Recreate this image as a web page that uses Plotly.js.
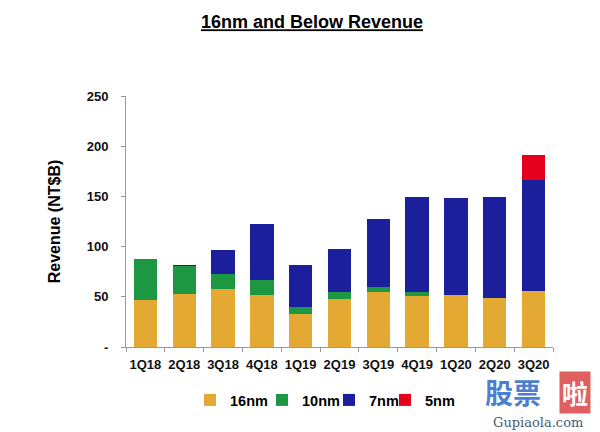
<!DOCTYPE html>
<html>
<head>
<meta charset="utf-8">
<script src="https://cdn.plot.ly/plotly-3.0.1.min.js"></script>
<style>html,body{margin:0;padding:0;background:#fff;}#chart{width:600px;height:432px;}</style>
</head>
<body>
<div id="chart"></div>
<script>
var quarters = ["1Q18","2Q18","3Q18","4Q18","1Q19","2Q19","3Q19","4Q19","1Q20","2Q20","3Q20"];
var rev16nm = [47, 53, 58, 52, 32.5, 48, 55, 51, 51.5, 49, 55.5];
var rev10nm = [41, 28, 14.5, 15, 7, 7, 5, 4, 0, 0, 0];
var rev7nm  = [0, 1, 24.5, 55.5, 42.5, 43, 67.5, 94.5, 96.5, 100, 111];
var rev5nm  = [0, 0, 0, 0, 0, 0, 0, 0, 0, 0, 25];
var yTickVals = [0, 50, 100, 150, 200, 250];
var yTickText = ["-", "50", "100", "150", "200", "250"];

var F = "Liberation Sans, Arial, sans-serif";
function series(name, vals, color, leg) {
  return {type: "bar", name: name, x: quarters, y: vals, legend: leg,
    marker: {color: color, line: {width: 0}}, hoverinfo: "x+y+name"};
}
var data = [
  series("16nm", rev16nm, "#E3A932", "legend"),
  series("10nm", rev10nm, "#1E9743", "legend2"),
  series("7nm", rev7nm, "#1C1F9C", "legend3"),
  series("5nm", rev5nm, "#E5001B", "legend4")
];
function leg(markerX) {
  return {orientation: "h", x: (markerX - 20 - 126) / 427, xanchor: "left", y: (347 - 400) / 251, yanchor: "middle",
    font: {family: F, size: 14.5, color: "#000", weight: "bold"}, itemwidth: 30, bgcolor: "rgba(0,0,0,0)"};
}
var layout = {
  width: 600, height: 432,
  margin: {l: 126, r: 47, t: 96, b: 85},
  paper_bgcolor: "#fff", plot_bgcolor: "#fff",
  barmode: "stack", bargap: 0.4,
  font: {family: F, color: "#000"},
  title: {text: "<b><u>16nm and Below Revenue</u></b>", font: {family: F, size: 18, color: "#000"},
    x: 312/600, xanchor: "center", y: 1 - 22/432, yanchor: "middle"},
  xaxis: {showline: true, linecolor: "#999", linewidth: 1, ticks: "outside", tickson: "boundaries",
    ticklen: 4, tickcolor: "#999", showgrid: false, zeroline: false, tickangle: 0, ticklabelstandoff: 5,
    tickfont: {family: F, size: 13, color: "#111", weight: "bold"}},
  yaxis: {range: [0, 250], tickvals: yTickVals, ticktext: yTickText, showline: true, linecolor: "#999",
    linewidth: 1, ticks: "outside", ticklen: 4, tickcolor: "#999", showgrid: false, zeroline: false,
    ticklabelstandoff: 10,
    tickfont: {family: F, size: 13, color: "#111", weight: "bold"},
    title: {text: "<b>Revenue (NT$B)</b>", font: {family: F, size: 16, color: "#000"}, standoff: 22}},
  legend: leg(210),
  legend2: leg(282),
  legend3: leg(349),
  legend4: leg(405),
  showlegend: true,
  annotations: [
    {xref: "paper", yref: "paper", x: (513-126)/427, y: (347-392)/251, text: "<b>股票</b>", showarrow: false,
      font: {family: "Noto Sans CJK SC", size: 28, color: "#4C7FD0"}, xanchor: "center", yanchor: "middle", borderpad: 0},
    {xref: "paper", yref: "paper", x: (575-126)/427, y: (347-392)/251, text: "<b>啦</b>", showarrow: false,
      font: {family: "Noto Sans CJK SC", size: 26, color: "#fff"}, bgcolor: "#E06060", borderpad: 2,
      xanchor: "center", yanchor: "middle"},
    {xref: "paper", yref: "paper", x: (538-126)/427, y: (347-422)/251, text: "Gupiaola.com", showarrow: false,
      font: {family: "DejaVu Serif", size: 13, color: "#4a5a6a"}, xanchor: "center", yanchor: "middle", borderpad: 0}
  ]
};
Plotly.newPlot("chart", data, layout, {displayModeBar: false, staticPlot: true});
</script>
</body>
</html>
